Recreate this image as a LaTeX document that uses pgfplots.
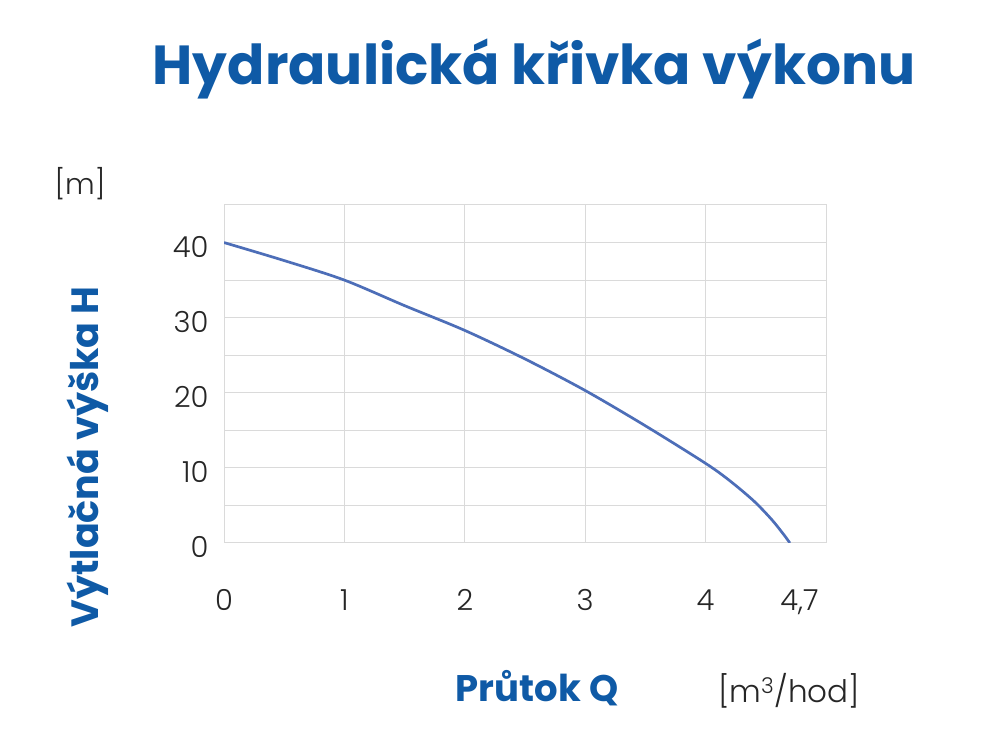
\documentclass[border=0pt]{standalone}
\usepackage{pgfplots}
\pgfplotsset{compat=1.18}
\usepackage{fontspec}
\setmainfont{Poppins}
\newfontfamily\boldfont{Poppins}[UprightFont=* Bold]
\newfontfamily\lightfont{Poppins}[UprightFont=* Light]
\definecolor{titleblue}{HTML}{0F5AA6}
\definecolor{curveblue}{HTML}{4D6EB8}
\definecolor{gridgray}{HTML}{DADADA}
\begin{document}
\begin{tikzpicture}[x=1pt,y=1pt]
\fill[white] (0,0) rectangle (999,754);
\begin{axis}[
  at={(224pt,211pt)}, anchor=south west,
  scale only axis, width=602pt, height=338pt,
  xmin=0, xmax=5, ymin=0, ymax=45,
  xtick={0,1,2,3,4,4.78},
  xticklabels={0,1,2,3,4,{4,7}},
  minor xtick={0,1,2,3,4,5},
  ytick={0,10,20,30,40},
  minor ytick={5,15,25,35,45},
  xmajorgrids=false, xminorgrids=true,
  ymajorgrids=true, yminorgrids=true,
  grid style={gridgray, line width=1pt},
  minor grid style={gridgray, line width=1pt},
  axis line style={gridgray, line width=1pt},
  major tick length=0pt, minor tick length=0pt,
  /pgf/number format/assume math mode=true,
  ticklabel style={font=\lightfont\fontsize{29}{31}\selectfont, text=black!85},
  xticklabel style={yshift=-43pt},
  yticklabel style={xshift=-12pt, yshift=-4pt},
]
\addplot[curveblue, line width=2.7pt, smooth, tension=0.5] coordinates {
(0,40) (0.5,37.6) (1,35) (1.5,31.6) (2,28.3) (2.5,24.5) (3,20.3) (3.5,15.6) (4,10.6) (4.2,8.3) (4.4,5.6) (4.55,3.1) (4.65,1.1) (4.7,0)
};
\end{axis}
\node[anchor=base, text=titleblue, font=\boldfont\fontsize{55}{60}\selectfont] at (534,669) {Hydraulická křivka výkonu};
\node[anchor=base, font=\lightfont\fontsize{29}{31}\selectfont, text=black!85] at (80,559) {[m]};
\node[rotate=90, text=titleblue, font=\boldfont\fontsize{38}{40}\selectfont] at (88,297) {Výtlačná výška H};
\node[anchor=base, text=titleblue, font=\boldfont\fontsize{37}{40}\selectfont] at (537,52) {Průtok Q};
\node[anchor=base, font=\lightfont\fontsize{31}{33}\selectfont, text=black!85] at (789,51) {[m\textsuperscript{3}/hod]};
\end{tikzpicture}
\end{document}
